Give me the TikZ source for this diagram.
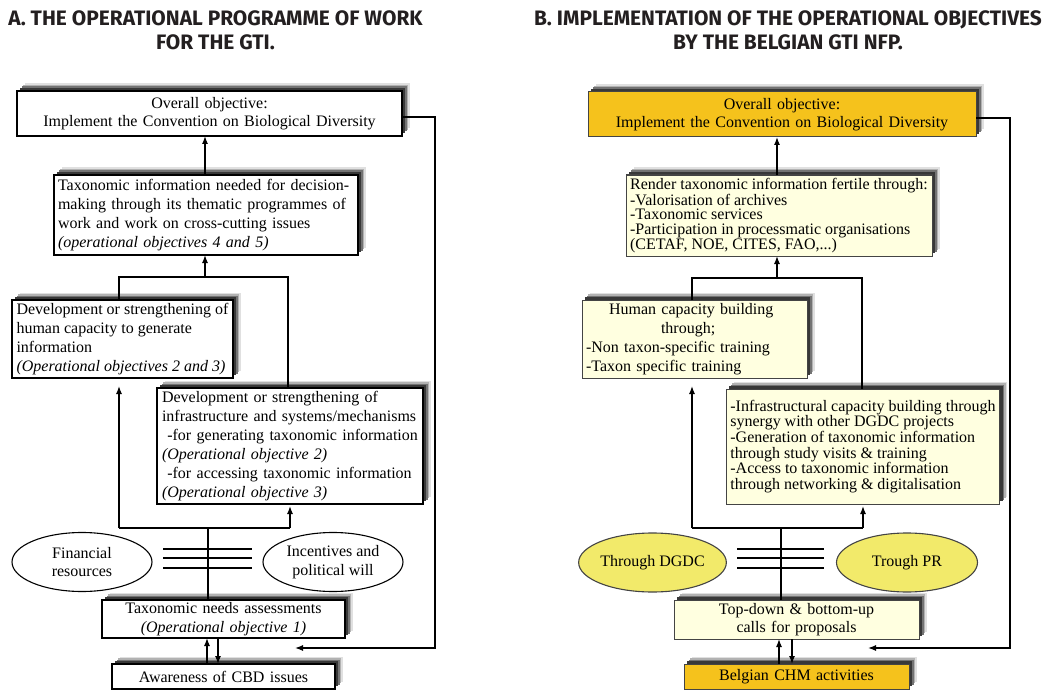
\documentclass[tikz,border=0pt]{standalone}
\usepackage{fontspec}
\setmainfont{Liberation Serif}
\newfontfamily\headfont{Fira Sans}
\usetikzlibrary{arrows.meta,shapes.geometric,shadows}

\definecolor{gold}{HTML}{F5C21C}
\definecolor{cream}{HTML}{FFFFE0}
\definecolor{lemon}{HTML}{F2EA6A}
\definecolor{ink}{HTML}{231F20}
\definecolor{rim}{HTML}{444444}

\begin{document}
\begin{tikzpicture}[x=1pt,y=-1pt,
  font=\fontsize{16}{18.5}\selectfont,
  every node/.style={inner sep=0pt, outer sep=0pt},
  wire/.style={line width=1.3pt, black},
  arr/.style={wire, -{Latex[length=8pt,width=6pt]}},
  % soft shadow towards the upper right, built from stacked grey layers
  shade/.style={
    general shadow={fill=black!12, shadow xshift=7.5pt, shadow yshift=7.5pt},
    general shadow={fill=black!30, shadow xshift=6pt, shadow yshift=6pt},
    general shadow={fill=black!55, shadow xshift=4.5pt, shadow yshift=4.5pt},
    general shadow={fill=black!78, shadow xshift=3pt, shadow yshift=3pt}},
  boxa/.style={draw=black, line width=1.2pt, fill=white, shade, inner xsep=4pt},
  boxb/.style={draw=rim, line width=1pt, fill=cream, shade, inner xsep=4pt},
  boxg/.style={boxb, fill=gold},
  oval/.style={ellipse, draw=black, line width=1.1pt, fill=white,
      minimum width=140pt, minimum height=59pt, align=center},
  ovalb/.style={oval, draw=rim, fill=lemon},
  heading/.style={align=center, text=ink,
      font=\headfont\bfseries\fontsize{20.9}{24}\selectfont},
]
\useasboundingbox (0,0) rectangle (1055,690);

% ---------- headings ----------
\node[heading] (ta) at (215.5,30) {A. THE OPERATIONAL PROGRAMME OF WORK\\FOR THE GTI.};
\node[heading] (tb) at (788,30) {B. IMPLEMENTATION OF THE OPERATIONAL OBJECTIVES\\BY THE BELGIAN GTI NFP.};

% ---------- panel A ----------
\node[boxa, minimum width=385, minimum height=45, text width=377, align=center]
  (A1) at (209.5,113.5) {Overall objective:\\Implement the Convention on Biological Diversity};
\node[boxa, minimum width=304, minimum height=80, text width=296, align=left,
  font=\fontsize{16}{19}\selectfont]
  (A2) at (206,215) {Taxonomic information needed for decision-\\making through its thematic programmes of\\work and work on cross-cutting issues\\\textit{(operational objectives 4 and 5)}};
\node[boxa, minimum width=221, minimum height=78, align=left,
  font=\fontsize{16}{19}\selectfont]
  (A3) at (122.5,339) {Development or strengthening of\\human capacity to generate\\information\\\textit{(Operational objectives 2 and 3)}};
\node[boxa, minimum width=266, minimum height=116, text width=256, inner xsep=5pt, align=left,
  font=\fontsize{16}{19}\selectfont]
  (A4) at (290,446) {Development or strengthening of\\infrastructure and systems/mechanisms\\\ -for generating taxonomic information\\\textit{(Operational objective 2)}\\\ -for accessing taxonomic information\\\textit{(Operational objective 3)}};
\node[oval] (E1) at (82,562) {Financial\\resources};
\node[oval] (E2) at (333,562) {Incentives and\\political will};
\node[boxa, minimum width=243, minimum height=38, text width=235, align=center]
  (A5) at (223.5,619) {Taxonomic needs assessments\\\textit{(Operational objective 1)}};
\node[boxa, minimum width=223, minimum height=25, text width=215, align=center]
  (A6) at (223.5,676.5) {Awareness of CBD issues};

% junction points of panel A
\coordinate (at)  at (205,277);
\coordinate (atl) at (119,277);
\coordinate (atr) at (288,277);
\coordinate (abl) at (119,528);
\coordinate (abr) at (290,528);
\coordinate (abm) at (208,528);
\coordinate (af1) at (435,117);
\coordinate (af2) at (295,648);

\draw[arr] (A2.north -| at) -- (A1.south -| at);
\draw[arr] (at) -- (A2.south -| at);
\draw[wire] (A3.north -| atl) -- (atl) -- (atr) -- (A4.north -| atr);
\draw[wire] (abl) -- (abr);
\draw[arr, shorten >=8pt] (abl) -- (A3.south -| abl);
\draw[arr, shorten >=2pt] (abr) -- (A4.south -| abr);
\draw[wire] (abm) -- (A5.north -| abm);
\foreach \yy in {549,558,568} \draw[wire] (163,\yy) -- (252,\yy);
\draw[arr] (A6.north -| 207,0) -- (A5.south -| 207,0);
\draw[arr] (A5.south -| 218,0) -- (A6.north -| 218,0);
\draw[arr] (A1.east |- af1) -- (af1) |- (af2);

% ---------- panel B ----------
\node[boxg, minimum width=388, minimum height=45, text width=380, align=center]
  (B1) at (782,114.5) {Overall objective:\\Implement the Convention on Biological Diversity};
\node[boxb, minimum width=306, minimum height=81, align=left,
  font=\fontsize{16}{14.5}\selectfont]
  (B2) at (779,215.5) {Render taxonomic information fertile through:\\-Valorisation of archives\\-Taxonomic services\\-Participation in processmatic organisations\\(CETAF, NOE, CITES, FAO,...)};
\node[boxb, minimum width=225, minimum height=78, text width=217, align=left,
  font=\fontsize{16}{19}\selectfont]
  (B3) at (694.5,339) {\hspace*{23pt}Human capacity building\\\hspace*{75pt}through;\\-Non taxon-specific training\\-Taxon specific training};
\node[boxb, minimum width=268, minimum height=115, align=left,
  font=\fontsize{16}{15.7}\selectfont]
  (B4) at (863,446.5) {-Infrastructural capacity building through\\synergy with other DGDC projects\\-Generation of taxonomic information\\through study visits \& training\\-Access to taxonomic information\\through networking \& digitalisation};
\node[ovalb, minimum width=141] (F1) at (652.5,562.5) {Through DGDC};
\node[ovalb, minimum width=141] (F2) at (907,562.5) {Trough PR};
\node[boxb, minimum width=245, minimum height=39, text width=237, align=center]
  (B5) at (796.5,619.5) {Top-down \& bottom-up\\calls for proposals};
\node[boxg, minimum width=225, minimum height=25, text width=217, align=center]
  (B6) at (796.5,676.5) {Belgian CHM activities};

% junction points of panel B
\coordinate (bt)  at (777,278);
\coordinate (btl) at (692,278);
\coordinate (btr) at (862,278);
\coordinate (bbl) at (692,528);
\coordinate (bbr) at (863,528);
\coordinate (bbm) at (781,528);
\coordinate (bf1) at (1010,118);
\coordinate (bf2) at (868,648);

\draw[arr] (B2.north -| bt) -- (B1.south -| bt);
\draw[arr] (bt) -- (B2.south -| bt);
\draw[wire] (B3.north -| btl) -- (btl) -- (btr) -- (B4.north -| btr);
\draw[wire] (bbl) -- (bbr);
\draw[arr, shorten >=8pt] (bbl) -- (B3.south -| bbl);
\draw[arr, shorten >=2pt] (bbr) -- (B4.south -| bbr);
\draw[wire] (bbm) -- (B5.north -| bbm);
\foreach \yy in {549,558,568} \draw[wire] (737,\yy) -- (824,\yy);
\draw[arr] (B6.north -| 779,0) -- (B5.south -| 779,0);
\draw[arr] (B5.south -| 792,0) -- (B6.north -| 792,0);
\draw[arr] (B1.east |- bf1) -- (bf1) |- (bf2);
\end{tikzpicture}
\end{document}
